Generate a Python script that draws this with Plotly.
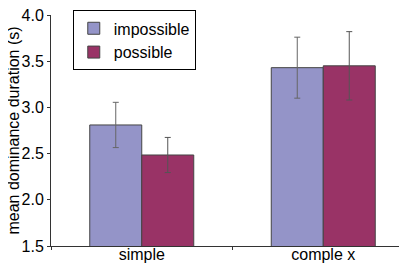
import plotly.graph_objects as go

categories = ["simple", "comple x"]
impossible = [2.81, 3.43]
impossible_err = [0.245, 0.33]
possible = [2.485, 3.45]
possible_err = [0.19, 0.37]
y_ticks = [1.5, 2.0, 2.5, 3.0, 3.5, 4.0]

fig = go.Figure()
fig.add_trace(go.Bar(
    name="impossible", x=categories, y=impossible,
    marker=dict(color="#9494C8", line=dict(color="#444444", width=1)),
    error_y=dict(type="data", array=impossible_err, color="#666666", thickness=1, width=3),
))
fig.add_trace(go.Bar(
    name="possible", x=categories, y=possible,
    marker=dict(color="#993366", line=dict(color="#444444", width=1)),
    error_y=dict(type="data", array=possible_err, color="#555555", thickness=1, width=3),
))

fig.update_layout(
    width=407, height=263,
    margin=dict(l=43, r=1, t=7, b=25, autoexpand=False),
    paper_bgcolor="white", plot_bgcolor="white",
    barmode="group", bargap=0.427, bargroupgap=0,
    font=dict(family="Liberation Sans, Arial, sans-serif", size=16, color="black"),
    showlegend=True,
    legend=dict(x=0.06, y=1.02, xanchor="left", yanchor="top",
                bordercolor="black", borderwidth=1, bgcolor="white",
                font=dict(size=16), tracegroupgap=0, itemwidth=30),
    xaxis=dict(showline=True, linecolor="#333333", linewidth=1,
               ticks="outside", ticklen=3, tickcolor="#333333",
               tickson="boundaries", showgrid=False, automargin=False,
               ticklabelstandoff=-6, ticklabeloverflow="allow",
               tickfont=dict(size=16)),
    yaxis=dict(range=[1.5, 4.0], tickvals=y_ticks, ticktext=[f"{v:.1f}" for v in y_ticks],
               showline=True, linecolor="#333333", linewidth=1,
               ticks="outside", ticklen=3, tickcolor="#333333",
               showgrid=False, zeroline=False, automargin=False,
               ticklabeloverflow="allow",
               tickfont=dict(size=16)),
    annotations=[dict(text="mean dominance duration (s)", xref="paper", yref="paper",
                      x=0, y=0.5, xshift=-38, xanchor="center", yanchor="middle",
                      textangle=-90, showarrow=False, font=dict(size=16))],
)

fig.write_html("out.html")
